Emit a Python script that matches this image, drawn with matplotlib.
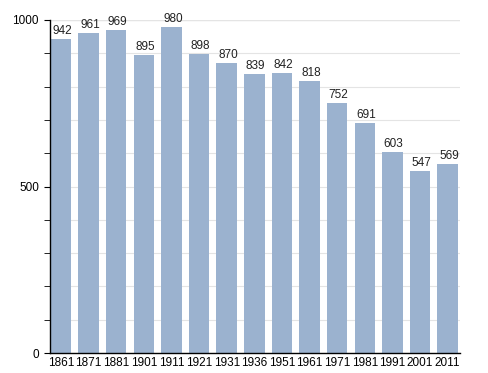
import matplotlib
matplotlib.use("Agg")
import matplotlib.pyplot as plt

years = ["1861", "1871", "1881", "1901", "1911", "1921", "1931", "1936", "1951", "1961",
         "1971", "1981", "1991", "2001", "2011"]
population = [942, 961, 969, 895, 980, 898, 870, 839, 842, 818, 752, 691, 603, 547, 569]

plt.rcParams['font.family'] = ['Liberation Sans', 'DejaVu Sans']

fig = plt.figure(figsize=(4.88, 3.73), dpi=100)
ax = fig.add_axes([50/488, 20/373, 410/488, 333/373])

x = list(range(len(years)))
ax.bar(x, population, width=0.74, color="#9bb2cf", zorder=2)
for xi, v in zip(x, population):
    ax.text(xi + 0.05, v + 6, str(v), ha="center", va="bottom", fontsize=8.5, color="#222222", zorder=3)

ax.set_xlim(-0.4, 14.45)
ax.set_ylim(0, 1000)
ax.set_yticks([0, 500, 1000])
ax.set_yticks(range(0, 1001, 100), minor=True)
ax.yaxis.grid(True, which="both", color="#e4e4e4", linewidth=0.8, zorder=0)
ax.axhline(1000, color="#aaaaaa", linewidth=0.8, zorder=1)
ax.set_xticks(x)
ax.set_xticklabels(years)
ax.tick_params(axis="x", length=0, labelsize=8.5, pad=3)
ax.tick_params(axis="y", which="both", length=4, direction="out", labelsize=8.5)
ax.tick_params(axis="y", which="major", pad=4)
for s in ["top", "right"]:
    ax.spines[s].set_visible(False)
ax.spines["left"].set_linewidth(1)
ax.spines["bottom"].set_linewidth(1)

fig.savefig("out.png", dpi=100)
